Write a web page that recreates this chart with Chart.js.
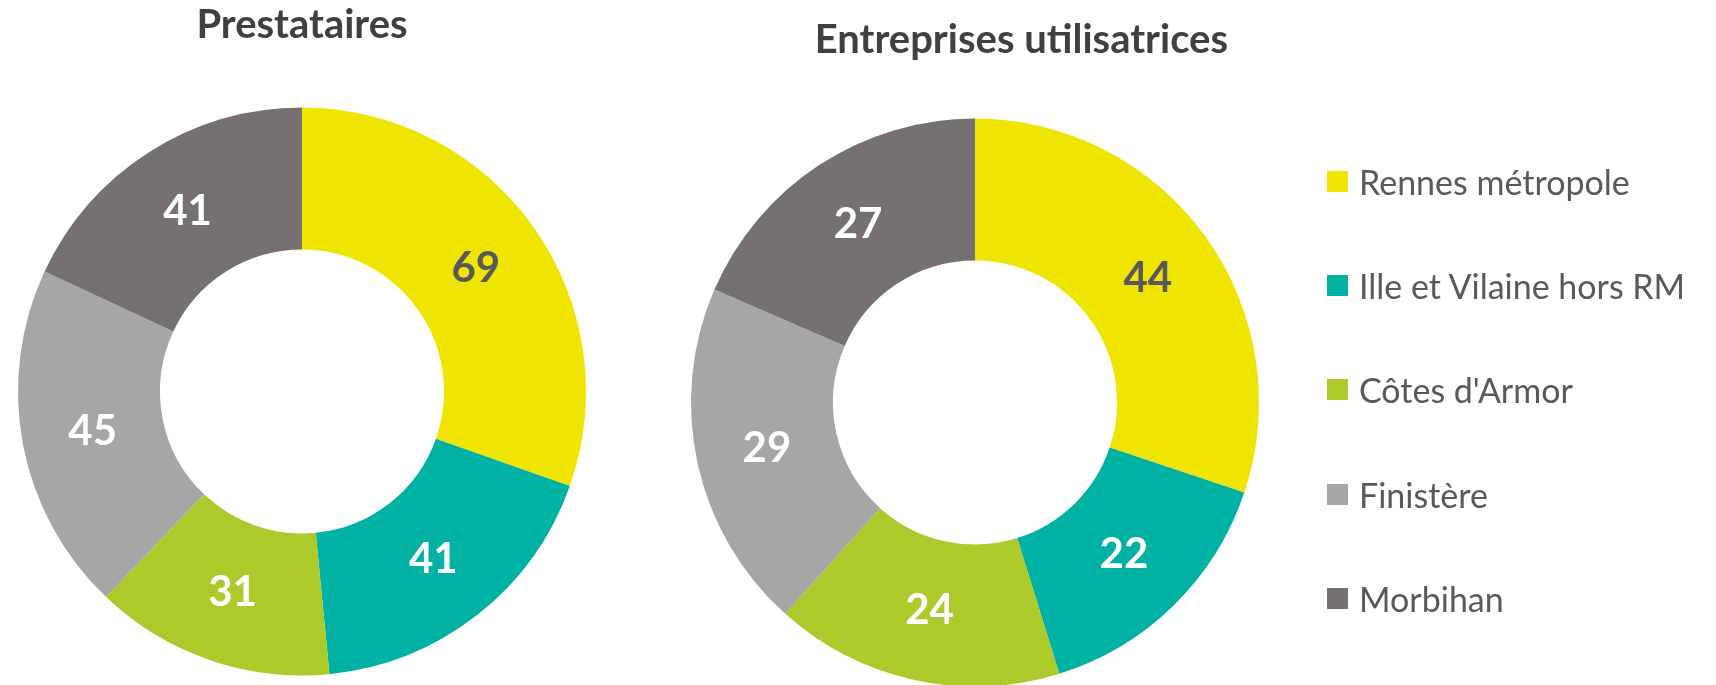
<!DOCTYPE html>
<html>
<head>
<meta charset="utf-8">
<script src="https://cdn.jsdelivr.net/npm/chart.js"></script>
<style>
  body { margin: 0; background: #fff; width: 1716px; height: 685px; overflow: hidden; position: relative; font-family: Lato, sans-serif; }
  #box1 { position: absolute; left: 0; top: 0; width: 604px; height: 685px; }
  #box2 { position: absolute; left: 640px; top: 0; width: 766px; height: 685px; }
  #legend { position: absolute; left: 1327px; top: 0; z-index: 2; }
  .item { position: absolute; left: 0; height: 40px; display: flex; align-items: center; white-space: nowrap; color: #595959; font-size: 34px; }
  .sw { width: 21px; height: 21px; margin-right: 11px; }
</style>
</head>
<body>
<div id="box1"><canvas id="chart1"></canvas></div>
<div id="box2"><canvas id="chart2"></canvas></div>
<div id="legend"></div>
<script>
var regions = ["Rennes métropole", "Ille et Vilaine hors RM", "Côtes d'Armor", "Finistère", "Morbihan"];
var prestataires = [69, 41, 31, 45, 41];
var entreprises = [44, 22, 24, 29, 27];
var colors = ["#F0E500", "#00B2A3", "#ACCB2A", "#A6A6A6", "#767171"];
var labelColors = ["#595959", "#ffffff", "#ffffff", "#ffffff", "#ffffff"];

// draws the value in the middle of each slice
var valueLabels = {
  id: "valueLabels",
  afterDatasetsDraw: function(chart) {
    var ctx = chart.ctx;
    var meta = chart.getDatasetMeta(0);
    var values = chart.data.datasets[0].data;
    ctx.save();
    ctx.font = "bold 42px Lato";
    ctx.textAlign = "center";
    ctx.textBaseline = "middle";
    meta.data.forEach(function(arc, i) {
      var p = arc.tooltipPosition();
      ctx.fillStyle = labelColors[i];
      ctx.fillText(values[i], p.x, p.y);
    });
    ctx.restore();
  }
};

function donut(id, title, values, titleAlign, titlePad, layoutPad) {
  return new Chart(id, {
    type: "doughnut",
    data: {
      labels: regions,
      datasets: [{
        data: values,
        backgroundColor: colors,
        borderWidth: 0,
        clip: false
      }]
    },
    options: {
      responsive: true,
      maintainAspectRatio: false,
      animation: false,
      cutout: "50%",
      radius: 284,
      layout: { padding: layoutPad },
      plugins: {
        legend: { display: false },
        tooltip: { enabled: false },
        title: {
          display: true,
          text: title,
          align: titleAlign,
          color: "#404040",
          font: { family: "Lato", size: 40, weight: "bold" },
          padding: titlePad
        }
      }
    },
    plugins: [valueLabels]
  });
}

donut("chart1", "Prestataires", prestataires, "center", { top: 1, bottom: 58 }, { bottom: 9 });
// title ends at the chart area's right edge; the ring keeps its own centre
donut("chart2", "Entreprises utilisatrices", entreprises, "end", { top: 16, bottom: 56 }, { left: 82, right: 178, bottom: 0 });

var legend = document.getElementById("legend");
var legendY = [181, 285, 389, 494, 598];
regions.forEach(function(name, i) {
  var item = document.createElement("div");
  item.className = "item";
  item.style.top = (legendY[i] - 20) + "px";
  var sw = document.createElement("span");
  sw.className = "sw";
  sw.style.background = colors[i];
  item.appendChild(sw);
  item.appendChild(document.createTextNode(name));
  legend.appendChild(item);
});
</script>
</body>
</html>
